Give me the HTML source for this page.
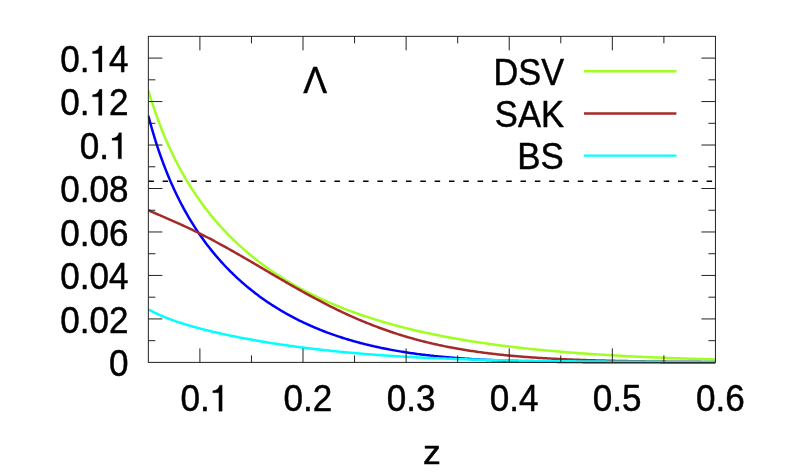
<!DOCTYPE html>
<html>
<head>
<meta charset="utf-8">
<title>plot</title>
<style>
html, body { margin: 0; padding: 0; background: #ffffff; }
body { width: 793px; height: 476px; overflow: hidden; }
svg { display: block; will-change: transform; }
text { font-family: "Liberation Sans", sans-serif; font-size: 35px; fill: #000; stroke: #000; stroke-width: 0.45px; stroke-linejoin: round; }
</style>
</head>
<body>
<svg width="793" height="476" viewBox="0 0 793 476">
<rect x="0" y="0" width="793" height="476" fill="#ffffff"/>
<!-- horizontal dashed reference -->
<path d="M148.35,181.3 H715.45" fill="none" stroke="#000" stroke-width="1.5" stroke-dasharray="5.5 8.815" stroke-dashoffset="0"/>
<!-- curves -->
<defs><clipPath id="plotclip"><rect x="147.85" y="36.35" width="567.6" height="329.04999999999995"/></clipPath></defs>
<g fill="none" stroke-width="2.5" stroke-linejoin="round" stroke-linecap="butt" clip-path="url(#plotclip)">
<path d="M148.35,115.75 L149.77,121.09 L151.19,126.23 L152.61,131.18 L154.04,135.96 L155.46,140.57 L156.88,145.02 L158.30,149.33 L159.72,153.49 L161.14,157.53 L162.56,161.44 L163.98,165.24 L165.41,168.92 L166.83,172.50 L168.25,175.98 L169.67,179.37 L171.09,182.66 L172.51,185.86 L173.93,188.98 L175.35,192.03 L176.78,194.99 L178.20,197.89 L179.62,200.71 L181.04,203.47 L182.46,206.17 L183.88,208.80 L185.30,211.37 L186.73,213.89 L188.15,216.35 L189.57,218.76 L190.99,221.12 L192.41,223.42 L193.83,225.68 L195.25,227.90 L196.67,230.07 L198.10,232.20 L199.52,234.29 L200.94,236.33 L202.36,238.34 L203.78,240.31 L205.20,242.24 L206.62,244.14 L208.04,246.00 L209.47,247.83 L210.89,249.63 L212.31,251.40 L213.73,253.13 L215.15,254.84 L216.57,256.51 L217.99,258.16 L219.42,259.78 L220.84,261.37 L222.26,262.94 L223.68,264.48 L225.10,266.00 L226.52,267.49 L227.94,268.96 L229.36,270.40 L230.79,271.82 L232.21,273.22 L233.63,274.60 L235.05,275.96 L236.47,277.29 L237.89,278.61 L239.31,279.90 L240.73,281.18 L242.16,282.44 L243.58,283.67 L245.00,284.89 L246.42,286.09 L247.84,287.28 L249.26,288.44 L250.68,289.59 L252.11,290.72 L253.53,291.84 L254.95,292.94 L256.37,294.02 L257.79,295.09 L259.21,296.15 L260.63,297.18 L262.05,298.21 L263.48,299.21 L264.90,300.21 L266.32,301.19 L267.74,302.16 L269.16,303.11 L270.58,304.05 L272.00,304.97 L273.42,305.89 L274.85,306.79 L276.27,307.68 L277.69,308.55 L279.11,309.42 L280.53,310.27 L281.95,311.11 L283.37,311.93 L284.80,312.75 L286.22,313.56 L287.64,314.35 L289.06,315.13 L290.48,315.90 L291.90,316.66 L293.32,317.42 L294.74,318.16 L296.17,318.89 L297.59,319.61 L299.01,320.31 L300.43,321.01 L301.85,321.70 L303.27,322.38 L304.69,323.06 L306.11,323.72 L307.54,324.37 L308.96,325.01 L310.38,325.65 L311.80,326.27 L313.22,326.89 L314.64,327.49 L316.06,328.09 L317.49,328.68 L318.91,329.27 L320.33,329.84 L321.75,330.41 L323.17,330.96 L324.59,331.51 L326.01,332.05 L327.43,332.59 L328.86,333.11 L330.28,333.63 L331.70,334.14 L333.12,334.65 L334.54,335.14 L335.96,335.63 L337.38,336.11 L338.80,336.59 L340.23,337.06 L341.65,337.52 L343.07,337.97 L344.49,338.42 L345.91,338.86 L347.33,339.29 L348.75,339.72 L350.18,340.14 L351.60,340.56 L353.02,340.97 L354.44,341.37 L355.86,341.76 L357.28,342.15 L358.70,342.54 L360.12,342.92 L361.55,343.29 L362.97,343.66 L364.39,344.02 L365.81,344.37 L367.23,344.72 L368.65,345.07 L370.07,345.40 L371.49,345.74 L372.92,346.07 L374.34,346.39 L375.76,346.71 L377.18,347.02 L378.60,347.33 L380.02,347.63 L381.44,347.93 L382.87,348.22 L384.29,348.51 L385.71,348.79 L387.13,349.07 L388.55,349.34 L389.97,349.61 L391.39,349.88 L392.81,350.14 L394.24,350.39 L395.66,350.64 L397.08,350.89 L398.50,351.13 L399.92,351.37 L401.34,351.61 L402.76,351.84 L404.18,352.06 L405.61,352.29 L407.03,352.50 L408.45,352.72 L409.87,352.93 L411.29,353.14 L412.71,353.34 L414.13,353.54 L415.56,353.74 L416.98,353.93 L418.40,354.12 L419.82,354.30 L421.24,354.49 L422.66,354.67 L424.08,354.84 L425.50,355.01 L426.93,355.18 L428.35,355.35 L429.77,355.51 L431.19,355.67 L432.61,355.83 L434.03,355.98 L435.45,356.13 L436.87,356.28 L438.30,356.42 L439.72,356.57 L441.14,356.70 L442.56,356.84 L443.98,356.98 L445.40,357.11 L446.82,357.23 L448.24,357.36 L449.67,357.48 L451.09,357.60 L452.51,357.72 L453.93,357.84 L455.35,357.95 L456.77,358.06 L458.19,358.17 L459.62,358.28 L461.04,358.38 L462.46,358.49 L463.88,358.59 L465.30,358.68 L466.72,358.78 L468.14,358.87 L469.56,358.96 L470.99,359.05 L472.41,359.14 L473.83,359.23 L475.25,359.31 L476.67,359.39 L478.09,359.47 L479.51,359.55 L480.93,359.63 L482.36,359.70 L483.78,359.78 L485.20,359.85 L486.62,359.92 L488.04,359.99 L489.46,360.05 L490.88,360.12 L492.31,360.18 L493.73,360.24 L495.15,360.30 L496.57,360.36 L497.99,360.42 L499.41,360.48 L500.83,360.53 L502.25,360.59 L503.68,360.64 L505.10,360.69 L506.52,360.74 L507.94,360.79 L509.36,360.83 L510.78,360.88 L512.20,360.93 L513.62,360.97 L515.05,361.01 L516.47,361.05 L517.89,361.09 L519.31,361.13 L520.73,361.17 L522.15,361.21 L523.57,361.25 L525.00,361.28 L526.42,361.32 L527.84,361.35 L529.26,361.38 L530.68,361.41 L532.10,361.45 L533.52,361.48 L534.94,361.51 L536.37,361.53 L537.79,361.56 L539.21,361.59 L540.63,361.62 L542.05,361.64 L543.47,361.67 L544.89,361.69 L546.31,361.71 L547.74,361.74 L549.16,361.76 L550.58,361.78 L552.00,361.80 L553.42,361.82 L554.84,361.84 L556.26,361.86 L557.69,361.88 L559.11,361.90 L560.53,361.91 L561.95,361.93 L563.37,361.95 L564.79,361.96 L566.21,361.98 L567.63,361.99 L569.06,362.01 L570.48,362.02 L571.90,362.03 L573.32,362.05 L574.74,362.06 L576.16,362.07 L577.58,362.08 L579.00,362.10 L580.43,362.11 L581.85,362.12 L583.27,362.13 L584.69,362.14 L586.11,362.15 L587.53,362.16 L588.95,362.17 L590.38,362.18 L591.80,362.18 L593.22,362.19 L594.64,362.20 L596.06,362.21 L597.48,362.22 L598.90,362.22 L600.32,362.23 L601.75,362.24 L603.17,362.24 L604.59,362.25 L606.01,362.26 L607.43,362.26 L608.85,362.27 L610.27,362.27 L611.69,362.28 L613.12,362.28 L614.54,362.29 L615.96,362.29 L617.38,362.30 L618.80,362.30 L620.22,362.31 L621.64,362.31 L623.07,362.31 L624.49,362.32 L625.91,362.32 L627.33,362.32 L628.75,362.33 L630.17,362.33 L631.59,362.33 L633.01,362.34 L634.44,362.34 L635.86,362.34 L637.28,362.34 L638.70,362.35 L640.12,362.35 L641.54,362.35 L642.96,362.35 L644.38,362.36 L645.81,362.36 L647.23,362.36 L648.65,362.36 L650.07,362.36 L651.49,362.37 L652.91,362.37 L654.33,362.37 L655.76,362.37 L657.18,362.37 L658.60,362.37 L660.02,362.37 L661.44,362.38 L662.86,362.38 L664.28,362.38 L665.70,362.38 L667.13,362.38 L668.55,362.38 L669.97,362.38 L671.39,362.38 L672.81,362.38 L674.23,362.38 L675.65,362.39 L677.07,362.39 L678.50,362.39 L679.92,362.39 L681.34,362.39 L682.76,362.39 L684.18,362.39 L685.60,362.39 L687.02,362.39 L688.45,362.39 L689.87,362.39 L691.29,362.39 L692.71,362.39 L694.13,362.39 L695.55,362.39 L696.97,362.39 L698.39,362.39 L699.82,362.39 L701.24,362.39 L702.66,362.39 L704.08,362.40 L705.50,362.40 L706.92,362.40 L708.34,362.40 L709.76,362.40 L711.19,362.40 L712.61,362.40 L714.03,362.40 L715.45,362.40" stroke="#0000ff"/>
<path d="M148.35,90.55 L149.77,95.25 L151.19,99.80 L152.61,104.20 L154.04,108.46 L155.46,112.59 L156.88,116.59 L158.30,120.48 L159.72,124.26 L161.14,127.93 L162.56,131.50 L163.98,134.98 L165.41,138.37 L166.83,141.66 L168.25,144.88 L169.67,148.02 L171.09,151.08 L172.51,154.06 L173.93,156.98 L175.35,159.83 L176.78,162.62 L178.20,165.35 L179.62,168.01 L181.04,170.62 L182.46,173.18 L183.88,175.68 L185.30,178.13 L186.73,180.53 L188.15,182.88 L189.57,185.19 L190.99,187.45 L192.41,189.67 L193.83,191.85 L195.25,193.99 L196.67,196.09 L198.10,198.15 L199.52,200.17 L200.94,202.16 L202.36,204.11 L203.78,206.03 L205.20,207.92 L206.62,209.78 L208.04,211.60 L209.47,213.40 L210.89,215.17 L212.31,216.90 L213.73,218.61 L215.15,220.30 L216.57,221.95 L217.99,223.58 L219.42,225.19 L220.84,226.77 L222.26,228.33 L223.68,229.86 L225.10,231.37 L226.52,232.86 L227.94,234.33 L229.36,235.78 L230.79,237.20 L232.21,238.61 L233.63,239.99 L235.05,241.36 L236.47,242.71 L237.89,244.04 L239.31,245.35 L240.73,246.64 L242.16,247.92 L243.58,249.17 L245.00,250.42 L246.42,251.64 L247.84,252.85 L249.26,254.04 L250.68,255.22 L252.11,256.38 L253.53,257.53 L254.95,258.66 L256.37,259.78 L257.79,260.89 L259.21,261.98 L260.63,263.05 L262.05,264.12 L263.48,265.17 L264.90,266.21 L266.32,267.23 L267.74,268.24 L269.16,269.24 L270.58,270.23 L272.00,271.21 L273.42,272.17 L274.85,273.12 L276.27,274.07 L277.69,275.00 L279.11,275.92 L280.53,276.83 L281.95,277.72 L283.37,278.61 L284.80,279.49 L286.22,280.36 L287.64,281.21 L289.06,282.06 L290.48,282.90 L291.90,283.73 L293.32,284.55 L294.74,285.36 L296.17,286.16 L297.59,286.95 L299.01,287.74 L300.43,288.51 L301.85,289.28 L303.27,290.03 L304.69,290.78 L306.11,291.52 L307.54,292.26 L308.96,292.98 L310.38,293.70 L311.80,294.41 L313.22,295.11 L314.64,295.80 L316.06,296.49 L317.49,297.17 L318.91,297.84 L320.33,298.50 L321.75,299.16 L323.17,299.81 L324.59,300.46 L326.01,301.09 L327.43,301.72 L328.86,302.35 L330.28,302.96 L331.70,303.57 L333.12,304.18 L334.54,304.77 L335.96,305.37 L337.38,305.95 L338.80,306.53 L340.23,307.10 L341.65,307.67 L343.07,308.23 L344.49,308.79 L345.91,309.34 L347.33,309.88 L348.75,310.42 L350.18,310.95 L351.60,311.48 L353.02,312.00 L354.44,312.52 L355.86,313.03 L357.28,313.53 L358.70,314.03 L360.12,314.53 L361.55,315.02 L362.97,315.51 L364.39,315.99 L365.81,316.46 L367.23,316.93 L368.65,317.40 L370.07,317.86 L371.49,318.32 L372.92,318.77 L374.34,319.22 L375.76,319.66 L377.18,320.10 L378.60,320.53 L380.02,320.96 L381.44,321.39 L382.87,321.81 L384.29,322.23 L385.71,322.64 L387.13,323.05 L388.55,323.46 L389.97,323.86 L391.39,324.25 L392.81,324.65 L394.24,325.03 L395.66,325.42 L397.08,325.80 L398.50,326.18 L399.92,326.55 L401.34,326.92 L402.76,327.29 L404.18,327.65 L405.61,328.01 L407.03,328.36 L408.45,328.71 L409.87,329.06 L411.29,329.41 L412.71,329.75 L414.13,330.09 L415.56,330.42 L416.98,330.75 L418.40,331.08 L419.82,331.41 L421.24,331.73 L422.66,332.05 L424.08,332.36 L425.50,332.67 L426.93,332.98 L428.35,333.29 L429.77,333.59 L431.19,333.89 L432.61,334.19 L434.03,334.48 L435.45,334.77 L436.87,335.06 L438.30,335.35 L439.72,335.63 L441.14,335.91 L442.56,336.18 L443.98,336.46 L445.40,336.73 L446.82,337.00 L448.24,337.27 L449.67,337.53 L451.09,337.79 L452.51,338.05 L453.93,338.30 L455.35,338.56 L456.77,338.81 L458.19,339.06 L459.62,339.30 L461.04,339.54 L462.46,339.79 L463.88,340.02 L465.30,340.26 L466.72,340.49 L468.14,340.73 L469.56,340.95 L470.99,341.18 L472.41,341.41 L473.83,341.63 L475.25,341.85 L476.67,342.07 L478.09,342.28 L479.51,342.50 L480.93,342.71 L482.36,342.92 L483.78,343.12 L485.20,343.33 L486.62,343.53 L488.04,343.73 L489.46,343.93 L490.88,344.13 L492.31,344.33 L493.73,344.52 L495.15,344.71 L496.57,344.90 L497.99,345.09 L499.41,345.27 L500.83,345.46 L502.25,345.64 L503.68,345.82 L505.10,346.00 L506.52,346.17 L507.94,346.35 L509.36,346.52 L510.78,346.69 L512.20,346.86 L513.62,347.03 L515.05,347.20 L516.47,347.36 L517.89,347.52 L519.31,347.68 L520.73,347.84 L522.15,348.00 L523.57,348.16 L525.00,348.31 L526.42,348.47 L527.84,348.62 L529.26,348.77 L530.68,348.92 L532.10,349.06 L533.52,349.21 L534.94,349.35 L536.37,349.50 L537.79,349.64 L539.21,349.78 L540.63,349.92 L542.05,350.05 L543.47,350.19 L544.89,350.32 L546.31,350.46 L547.74,350.59 L549.16,350.72 L550.58,350.85 L552.00,350.97 L553.42,351.10 L554.84,351.22 L556.26,351.35 L557.69,351.47 L559.11,351.59 L560.53,351.71 L561.95,351.83 L563.37,351.95 L564.79,352.06 L566.21,352.18 L567.63,352.29 L569.06,352.40 L570.48,352.52 L571.90,352.63 L573.32,352.74 L574.74,352.84 L576.16,352.95 L577.58,353.06 L579.00,353.16 L580.43,353.26 L581.85,353.37 L583.27,353.47 L584.69,353.57 L586.11,353.67 L587.53,353.77 L588.95,353.86 L590.38,353.96 L591.80,354.06 L593.22,354.15 L594.64,354.24 L596.06,354.34 L597.48,354.43 L598.90,354.52 L600.32,354.61 L601.75,354.70 L603.17,354.78 L604.59,354.87 L606.01,354.96 L607.43,355.04 L608.85,355.12 L610.27,355.21 L611.69,355.29 L613.12,355.37 L614.54,355.45 L615.96,355.53 L617.38,355.61 L618.80,355.69 L620.22,355.77 L621.64,355.84 L623.07,355.92 L624.49,355.99 L625.91,356.07 L627.33,356.14 L628.75,356.21 L630.17,356.28 L631.59,356.35 L633.01,356.42 L634.44,356.49 L635.86,356.56 L637.28,356.63 L638.70,356.70 L640.12,356.76 L641.54,356.83 L642.96,356.89 L644.38,356.96 L645.81,357.02 L647.23,357.08 L648.65,357.15 L650.07,357.21 L651.49,357.27 L652.91,357.33 L654.33,357.39 L655.76,357.45 L657.18,357.51 L658.60,357.56 L660.02,357.62 L661.44,357.68 L662.86,357.73 L664.28,357.79 L665.70,357.84 L667.13,357.90 L668.55,357.95 L669.97,358.00 L671.39,358.05 L672.81,358.11 L674.23,358.16 L675.65,358.21 L677.07,358.26 L678.50,358.31 L679.92,358.36 L681.34,358.40 L682.76,358.45 L684.18,358.50 L685.60,358.55 L687.02,358.59 L688.45,358.64 L689.87,358.68 L691.29,358.73 L692.71,358.77 L694.13,358.82 L695.55,358.86 L696.97,358.90 L698.39,358.94 L699.82,358.99 L701.24,359.03 L702.66,359.07 L704.08,359.11 L705.50,359.15 L706.92,359.19 L708.34,359.23 L709.76,359.26 L711.19,359.30 L712.61,359.34 L714.03,359.38 L715.45,359.42" stroke="#a0ff20"/>
<path d="M148.35,210.23 L149.77,210.87 L151.19,211.50 L152.61,212.13 L154.04,212.76 L155.46,213.38 L156.88,213.99 L158.30,214.61 L159.72,215.22 L161.14,215.84 L162.56,216.45 L163.98,217.07 L165.41,217.68 L166.83,218.30 L168.25,218.91 L169.67,219.53 L171.09,220.16 L172.51,220.78 L173.93,221.41 L175.35,222.04 L176.78,222.67 L178.20,223.31 L179.62,223.95 L181.04,224.60 L182.46,225.25 L183.88,225.90 L185.30,226.56 L186.73,227.23 L188.15,227.89 L189.57,228.57 L190.99,229.24 L192.41,229.93 L193.83,230.61 L195.25,231.30 L196.67,232.00 L198.10,232.70 L199.52,233.41 L200.94,234.12 L202.36,234.83 L203.78,235.56 L205.20,236.28 L206.62,237.01 L208.04,237.75 L209.47,238.48 L210.89,239.23 L212.31,239.98 L213.73,240.73 L215.15,241.49 L216.57,242.25 L217.99,243.01 L219.42,243.78 L220.84,244.56 L222.26,245.33 L223.68,246.11 L225.10,246.90 L226.52,247.69 L227.94,248.48 L229.36,249.27 L230.79,250.07 L232.21,250.87 L233.63,251.68 L235.05,252.49 L236.47,253.30 L237.89,254.11 L239.31,254.92 L240.73,255.74 L242.16,256.56 L243.58,257.38 L245.00,258.21 L246.42,259.03 L247.84,259.86 L249.26,260.69 L250.68,261.52 L252.11,262.35 L253.53,263.18 L254.95,264.02 L256.37,264.85 L257.79,265.69 L259.21,266.52 L260.63,267.36 L262.05,268.20 L263.48,269.03 L264.90,269.87 L266.32,270.71 L267.74,271.54 L269.16,272.38 L270.58,273.22 L272.00,274.05 L273.42,274.89 L274.85,275.72 L276.27,276.55 L277.69,277.38 L279.11,278.21 L280.53,279.04 L281.95,279.87 L283.37,280.70 L284.80,281.52 L286.22,282.34 L287.64,283.16 L289.06,283.98 L290.48,284.80 L291.90,285.61 L293.32,286.42 L294.74,287.23 L296.17,288.03 L297.59,288.84 L299.01,289.64 L300.43,290.44 L301.85,291.23 L303.27,292.02 L304.69,292.81 L306.11,293.59 L307.54,294.37 L308.96,295.15 L310.38,295.92 L311.80,296.69 L313.22,297.46 L314.64,298.22 L316.06,298.98 L317.49,299.73 L318.91,300.48 L320.33,301.23 L321.75,301.97 L323.17,302.71 L324.59,303.44 L326.01,304.17 L327.43,304.89 L328.86,305.61 L330.28,306.32 L331.70,307.03 L333.12,307.73 L334.54,308.43 L335.96,309.13 L337.38,309.82 L338.80,310.50 L340.23,311.18 L341.65,311.86 L343.07,312.52 L344.49,313.19 L345.91,313.85 L347.33,314.50 L348.75,315.15 L350.18,315.79 L351.60,316.43 L353.02,317.06 L354.44,317.68 L355.86,318.31 L357.28,318.92 L358.70,319.53 L360.12,320.13 L361.55,320.73 L362.97,321.33 L364.39,321.91 L365.81,322.50 L367.23,323.07 L368.65,323.64 L370.07,324.21 L371.49,324.77 L372.92,325.32 L374.34,325.87 L375.76,326.41 L377.18,326.95 L378.60,327.48 L380.02,328.00 L381.44,328.52 L382.87,329.04 L384.29,329.55 L385.71,330.05 L387.13,330.55 L388.55,331.04 L389.97,331.53 L391.39,332.01 L392.81,332.48 L394.24,332.95 L395.66,333.41 L397.08,333.87 L398.50,334.33 L399.92,334.77 L401.34,335.22 L402.76,335.65 L404.18,336.08 L405.61,336.51 L407.03,336.93 L408.45,337.35 L409.87,337.76 L411.29,338.16 L412.71,338.56 L414.13,338.95 L415.56,339.34 L416.98,339.73 L418.40,340.11 L419.82,340.48 L421.24,340.85 L422.66,341.21 L424.08,341.57 L425.50,341.93 L426.93,342.28 L428.35,342.62 L429.77,342.96 L431.19,343.29 L432.61,343.62 L434.03,343.95 L435.45,344.27 L436.87,344.59 L438.30,344.90 L439.72,345.20 L441.14,345.51 L442.56,345.80 L443.98,346.10 L445.40,346.39 L446.82,346.67 L448.24,346.95 L449.67,347.23 L451.09,347.50 L452.51,347.77 L453.93,348.03 L455.35,348.29 L456.77,348.55 L458.19,348.80 L459.62,349.05 L461.04,349.29 L462.46,349.53 L463.88,349.77 L465.30,350.00 L466.72,350.23 L468.14,350.45 L469.56,350.67 L470.99,350.89 L472.41,351.10 L473.83,351.31 L475.25,351.52 L476.67,351.72 L478.09,351.92 L479.51,352.12 L480.93,352.32 L482.36,352.51 L483.78,352.69 L485.20,352.88 L486.62,353.06 L488.04,353.23 L489.46,353.41 L490.88,353.58 L492.31,353.75 L493.73,353.92 L495.15,354.08 L496.57,354.24 L497.99,354.40 L499.41,354.55 L500.83,354.70 L502.25,354.85 L503.68,355.00 L505.10,355.14 L506.52,355.28 L507.94,355.42 L509.36,355.56 L510.78,355.69 L512.20,355.82 L513.62,355.95 L515.05,356.08 L516.47,356.20 L517.89,356.32 L519.31,356.44 L520.73,356.56 L522.15,356.67 L523.57,356.79 L525.00,356.90 L526.42,357.01 L527.84,357.11 L529.26,357.22 L530.68,357.32 L532.10,357.42 L533.52,357.52 L534.94,357.62 L536.37,357.71 L537.79,357.80 L539.21,357.90 L540.63,357.99 L542.05,358.07 L543.47,358.16 L544.89,358.25 L546.31,358.33 L547.74,358.41 L549.16,358.49 L550.58,358.57 L552.00,358.64 L553.42,358.72 L554.84,358.79 L556.26,358.87 L557.69,358.94 L559.11,359.01 L560.53,359.07 L561.95,359.14 L563.37,359.21 L564.79,359.27 L566.21,359.33 L567.63,359.39 L569.06,359.45 L570.48,359.51 L571.90,359.57 L573.32,359.63 L574.74,359.68 L576.16,359.74 L577.58,359.79 L579.00,359.84 L580.43,359.89 L581.85,359.94 L583.27,359.99 L584.69,360.04 L586.11,360.09 L587.53,360.13 L588.95,360.18 L590.38,360.22 L591.80,360.27 L593.22,360.31 L594.64,360.35 L596.06,360.39 L597.48,360.43 L598.90,360.47 L600.32,360.51 L601.75,360.55 L603.17,360.58 L604.59,360.62 L606.01,360.65 L607.43,360.69 L608.85,360.72 L610.27,360.76 L611.69,360.79 L613.12,360.82 L614.54,360.85 L615.96,360.88 L617.38,360.91 L618.80,360.94 L620.22,360.97 L621.64,360.99 L623.07,361.02 L624.49,361.05 L625.91,361.07 L627.33,361.10 L628.75,361.13 L630.17,361.15 L631.59,361.17 L633.01,361.20 L634.44,361.22 L635.86,361.24 L637.28,361.26 L638.70,361.29 L640.12,361.31 L641.54,361.33 L642.96,361.35 L644.38,361.37 L645.81,361.39 L647.23,361.40 L648.65,361.42 L650.07,361.44 L651.49,361.46 L652.91,361.48 L654.33,361.49 L655.76,361.51 L657.18,361.53 L658.60,361.54 L660.02,361.56 L661.44,361.57 L662.86,361.59 L664.28,361.60 L665.70,361.61 L667.13,361.63 L668.55,361.64 L669.97,361.66 L671.39,361.67 L672.81,361.68 L674.23,361.69 L675.65,361.71 L677.07,361.72 L678.50,361.73 L679.92,361.74 L681.34,361.75 L682.76,361.76 L684.18,361.77 L685.60,361.78 L687.02,361.79 L688.45,361.80 L689.87,361.81 L691.29,361.82 L692.71,361.83 L694.13,361.84 L695.55,361.85 L696.97,361.86 L698.39,361.87 L699.82,361.87 L701.24,361.88 L702.66,361.89 L704.08,361.90 L705.50,361.91 L706.92,361.91 L708.34,361.92 L709.76,361.93 L711.19,361.93 L712.61,361.94 L714.03,361.95 L715.45,361.95" stroke="#a52a2a"/>
<path d="M148.35,309.38 L149.77,310.16 L151.19,310.92 L152.61,311.65 L154.04,312.37 L155.46,313.06 L156.88,313.73 L158.30,314.38 L159.72,315.02 L161.14,315.64 L162.56,316.24 L163.98,316.83 L165.41,317.41 L166.83,317.97 L168.25,318.52 L169.67,319.06 L171.09,319.58 L172.51,320.10 L173.93,320.61 L175.35,321.10 L176.78,321.59 L178.20,322.07 L179.62,322.54 L181.04,323.00 L182.46,323.45 L183.88,323.90 L185.30,324.34 L186.73,324.77 L188.15,325.20 L189.57,325.61 L190.99,326.03 L192.41,326.43 L193.83,326.83 L195.25,327.23 L196.67,327.62 L198.10,328.00 L199.52,328.38 L200.94,328.76 L202.36,329.13 L203.78,329.49 L205.20,329.86 L206.62,330.21 L208.04,330.56 L209.47,330.91 L210.89,331.26 L212.31,331.60 L213.73,331.93 L215.15,332.26 L216.57,332.59 L217.99,332.92 L219.42,333.24 L220.84,333.56 L222.26,333.87 L223.68,334.18 L225.10,334.49 L226.52,334.80 L227.94,335.10 L229.36,335.40 L230.79,335.70 L232.21,335.99 L233.63,336.28 L235.05,336.57 L236.47,336.85 L237.89,337.13 L239.31,337.41 L240.73,337.69 L242.16,337.96 L243.58,338.23 L245.00,338.50 L246.42,338.77 L247.84,339.03 L249.26,339.29 L250.68,339.55 L252.11,339.81 L253.53,340.06 L254.95,340.31 L256.37,340.56 L257.79,340.81 L259.21,341.05 L260.63,341.30 L262.05,341.54 L263.48,341.78 L264.90,342.01 L266.32,342.24 L267.74,342.48 L269.16,342.71 L270.58,342.93 L272.00,343.16 L273.42,343.38 L274.85,343.60 L276.27,343.82 L277.69,344.04 L279.11,344.25 L280.53,344.46 L281.95,344.68 L283.37,344.88 L284.80,345.09 L286.22,345.30 L287.64,345.50 L289.06,345.70 L290.48,345.90 L291.90,346.10 L293.32,346.29 L294.74,346.49 L296.17,346.68 L297.59,346.87 L299.01,347.06 L300.43,347.24 L301.85,347.43 L303.27,347.61 L304.69,347.79 L306.11,347.97 L307.54,348.15 L308.96,348.32 L310.38,348.50 L311.80,348.67 L313.22,348.84 L314.64,349.01 L316.06,349.17 L317.49,349.34 L318.91,349.50 L320.33,349.67 L321.75,349.83 L323.17,349.98 L324.59,350.14 L326.01,350.30 L327.43,350.45 L328.86,350.60 L330.28,350.75 L331.70,350.90 L333.12,351.05 L334.54,351.20 L335.96,351.34 L337.38,351.48 L338.80,351.63 L340.23,351.76 L341.65,351.90 L343.07,352.04 L344.49,352.18 L345.91,352.31 L347.33,352.44 L348.75,352.57 L350.18,352.70 L351.60,352.83 L353.02,352.96 L354.44,353.08 L355.86,353.21 L357.28,353.33 L358.70,353.45 L360.12,353.57 L361.55,353.69 L362.97,353.80 L364.39,353.92 L365.81,354.03 L367.23,354.15 L368.65,354.26 L370.07,354.37 L371.49,354.48 L372.92,354.59 L374.34,354.69 L375.76,354.80 L377.18,354.90 L378.60,355.00 L380.02,355.11 L381.44,355.21 L382.87,355.31 L384.29,355.40 L385.71,355.50 L387.13,355.60 L388.55,355.69 L389.97,355.78 L391.39,355.87 L392.81,355.97 L394.24,356.06 L395.66,356.14 L397.08,356.23 L398.50,356.32 L399.92,356.40 L401.34,356.49 L402.76,356.57 L404.18,356.65 L405.61,356.73 L407.03,356.81 L408.45,356.89 L409.87,356.97 L411.29,357.05 L412.71,357.12 L414.13,357.20 L415.56,357.27 L416.98,357.35 L418.40,357.42 L419.82,357.49 L421.24,357.56 L422.66,357.63 L424.08,357.70 L425.50,357.77 L426.93,357.83 L428.35,357.90 L429.77,357.96 L431.19,358.03 L432.61,358.09 L434.03,358.15 L435.45,358.21 L436.87,358.27 L438.30,358.33 L439.72,358.39 L441.14,358.45 L442.56,358.51 L443.98,358.56 L445.40,358.62 L446.82,358.67 L448.24,358.73 L449.67,358.78 L451.09,358.83 L452.51,358.89 L453.93,358.94 L455.35,358.99 L456.77,359.04 L458.19,359.09 L459.62,359.13 L461.04,359.18 L462.46,359.23 L463.88,359.28 L465.30,359.32 L466.72,359.37 L468.14,359.41 L469.56,359.45 L470.99,359.50 L472.41,359.54 L473.83,359.58 L475.25,359.62 L476.67,359.66 L478.09,359.70 L479.51,359.74 L480.93,359.78 L482.36,359.82 L483.78,359.86 L485.20,359.89 L486.62,359.93 L488.04,359.97 L489.46,360.00 L490.88,360.04 L492.31,360.07 L493.73,360.11 L495.15,360.14 L496.57,360.17 L497.99,360.20 L499.41,360.24 L500.83,360.27 L502.25,360.30 L503.68,360.33 L505.10,360.36 L506.52,360.39 L507.94,360.42 L509.36,360.45 L510.78,360.47 L512.20,360.50 L513.62,360.53 L515.05,360.56 L516.47,360.58 L517.89,360.61 L519.31,360.63 L520.73,360.66 L522.15,360.68 L523.57,360.71 L525.00,360.73 L526.42,360.76 L527.84,360.78 L529.26,360.80 L530.68,360.83 L532.10,360.85 L533.52,360.87 L534.94,360.89 L536.37,360.91 L537.79,360.93 L539.21,360.95 L540.63,360.97 L542.05,360.99 L543.47,361.01 L544.89,361.03 L546.31,361.05 L547.74,361.07 L549.16,361.09 L550.58,361.11 L552.00,361.13 L553.42,361.14 L554.84,361.16 L556.26,361.18 L557.69,361.19 L559.11,361.21 L560.53,361.23 L561.95,361.24 L563.37,361.26 L564.79,361.27 L566.21,361.29 L567.63,361.30 L569.06,361.32 L570.48,361.33 L571.90,361.35 L573.32,361.36 L574.74,361.37 L576.16,361.39 L577.58,361.40 L579.00,361.41 L580.43,361.43 L581.85,361.44 L583.27,361.45 L584.69,361.46 L586.11,361.47 L587.53,361.49 L588.95,361.50 L590.38,361.51 L591.80,361.52 L593.22,361.53 L594.64,361.54 L596.06,361.55 L597.48,361.56 L598.90,361.57 L600.32,361.58 L601.75,361.59 L603.17,361.60 L604.59,361.61 L606.01,361.62 L607.43,361.63 L608.85,361.64 L610.27,361.65 L611.69,361.66 L613.12,361.67 L614.54,361.67 L615.96,361.68 L617.38,361.69 L618.80,361.70 L620.22,361.71 L621.64,361.71 L623.07,361.72 L624.49,361.73 L625.91,361.74 L627.33,361.74 L628.75,361.75 L630.17,361.76 L631.59,361.76 L633.01,361.77 L634.44,361.78 L635.86,361.78 L637.28,361.79 L638.70,361.80 L640.12,361.80 L641.54,361.81 L642.96,361.81 L644.38,361.82 L645.81,361.82 L647.23,361.83 L648.65,361.84 L650.07,361.84 L651.49,361.85 L652.91,361.85 L654.33,361.86 L655.76,361.86 L657.18,361.87 L658.60,361.87 L660.02,361.87 L661.44,361.88 L662.86,361.88 L664.28,361.89 L665.70,361.89 L667.13,361.90 L668.55,361.90 L669.97,361.90 L671.39,361.91 L672.81,361.91 L674.23,361.91 L675.65,361.92 L677.07,361.92 L678.50,361.92 L679.92,361.93 L681.34,361.93 L682.76,361.93 L684.18,361.94 L685.60,361.94 L687.02,361.94 L688.45,361.94 L689.87,361.95 L691.29,361.95 L692.71,361.95 L694.13,361.95 L695.55,361.96 L696.97,361.96 L698.39,361.96 L699.82,361.96 L701.24,361.97 L702.66,361.97 L704.08,361.97 L705.50,361.97 L706.92,361.97 L708.34,361.97 L709.76,361.98 L711.19,361.98 L712.61,361.98 L714.03,361.98 L715.45,361.98" stroke="#00ffff"/>
</g>
<!-- frame and ticks -->
<g fill="none" stroke="#222" stroke-width="1" shape-rendering="auto">
<rect x="148.35" y="36.35" width="567.1" height="326.04999999999995"/>
<path d="M199.90,362.4 V348.4"/>
<path d="M199.90,36.35 V50.35"/>
<path d="M251.46,362.4 V355.4"/>
<path d="M251.46,36.35 V43.35"/>
<path d="M303.01,362.4 V348.4"/>
<path d="M303.01,36.35 V50.35"/>
<path d="M354.57,362.4 V355.4"/>
<path d="M354.57,36.35 V43.35"/>
<path d="M406.12,362.4 V348.4"/>
<path d="M406.12,36.35 V50.35"/>
<path d="M457.68,362.4 V355.4"/>
<path d="M457.68,36.35 V43.35"/>
<path d="M509.23,362.4 V348.4"/>
<path d="M509.23,36.35 V50.35"/>
<path d="M560.79,362.4 V355.4"/>
<path d="M560.79,36.35 V43.35"/>
<path d="M612.34,362.4 V348.4"/>
<path d="M612.34,36.35 V50.35"/>
<path d="M663.90,362.4 V355.4"/>
<path d="M663.90,36.35 V43.35"/>
<path d="M148.35,340.66 H155.35"/>
<path d="M715.45,340.66 H708.45"/>
<path d="M148.35,318.93 H162.35"/>
<path d="M715.45,318.93 H701.45"/>
<path d="M148.35,297.19 H155.35"/>
<path d="M715.45,297.19 H708.45"/>
<path d="M148.35,275.45 H162.35"/>
<path d="M715.45,275.45 H701.45"/>
<path d="M148.35,253.72 H155.35"/>
<path d="M715.45,253.72 H708.45"/>
<path d="M148.35,231.98 H162.35"/>
<path d="M715.45,231.98 H701.45"/>
<path d="M148.35,210.24 H155.35"/>
<path d="M715.45,210.24 H708.45"/>
<path d="M148.35,188.51 H162.35"/>
<path d="M715.45,188.51 H701.45"/>
<path d="M148.35,166.77 H155.35"/>
<path d="M715.45,166.77 H708.45"/>
<path d="M148.35,145.03 H162.35"/>
<path d="M715.45,145.03 H701.45"/>
<path d="M148.35,123.30 H155.35"/>
<path d="M715.45,123.30 H708.45"/>
<path d="M148.35,101.56 H162.35"/>
<path d="M715.45,101.56 H701.45"/>
<path d="M148.35,79.82 H155.35"/>
<path d="M715.45,79.82 H708.45"/>
<path d="M148.35,58.09 H162.35"/>
<path d="M715.45,58.09 H701.45"/>
</g>
<!-- legend samples -->
<g fill="none" stroke-width="2.4">
<path d="M584,71.3 H676.4" stroke="#a0ff20"/>
<path d="M584,113.5 H676.4" stroke="#a52a2a"/>
<path d="M584,155.6 H676.4" stroke="#00ffff"/>
</g>
<g>
<text transform="translate(128.50,376.20) scale(1.003,1.06)" text-anchor="end">0</text>
<text transform="translate(128.50,332.73) scale(1.003,1.06)" text-anchor="end">0.02</text>
<text transform="translate(128.50,289.25) scale(1.003,1.06)" text-anchor="end">0.04</text>
<text transform="translate(128.50,245.78) scale(1.003,1.06)" text-anchor="end">0.06</text>
<text transform="translate(128.50,202.31) scale(1.003,1.06)" text-anchor="end">0.08</text>
<text transform="translate(128.50,158.83) scale(1.003,1.06)" text-anchor="end">0.<tspan visibility="hidden">1</tspan></text>
<text transform="translate(128.50,115.36) scale(1.003,1.06)" text-anchor="end">0.<tspan visibility="hidden">1</tspan>2</text>
<text transform="translate(128.50,71.89) scale(1.003,1.06)" text-anchor="end">0.<tspan visibility="hidden">1</tspan>4</text>
<text transform="translate(204.80,411.20) scale(1.003,1.06)" text-anchor="middle">0.<tspan visibility="hidden">1</tspan></text>
<text transform="translate(307.91,411.20) scale(1.003,1.06)" text-anchor="middle">0.2</text>
<text transform="translate(411.02,411.20) scale(1.003,1.06)" text-anchor="middle">0.3</text>
<text transform="translate(514.13,411.20) scale(1.003,1.06)" text-anchor="middle">0.4</text>
<text transform="translate(617.24,411.20) scale(1.003,1.06)" text-anchor="middle">0.5</text>
<text transform="translate(720.35,411.20) scale(1.003,1.06)" text-anchor="middle">0.6</text>
<text transform="translate(315.10,92.90) scale(1.02,1.077)" text-anchor="middle">&#923;</text>
<text transform="translate(564.00,84.50) scale(0.98,1.05)" text-anchor="end">DSV</text>
<text transform="translate(564.00,126.80) scale(0.988,1.045)" text-anchor="end">SAK</text>
<text transform="translate(563.80,168.60) scale(0.995,1.045)" text-anchor="end">BS</text>
<text transform="translate(432.00,463.60) scale(1.02,0.95)" text-anchor="middle">z</text>
</g>
<g fill="#000" stroke="#000" stroke-width="0.3">
<path transform="translate(121.47,158.83)" d="M0,0 H-3.3 V-18.5 H-9.4 V-20.5 C-5.6,-20.7 -3.5,-22.4 -2.5,-26.0 H0 Z"/>
<path transform="translate(101.95,115.36)" d="M0,0 H-3.3 V-18.5 H-9.4 V-20.5 C-5.6,-20.7 -3.5,-22.4 -2.5,-26.0 H0 Z"/>
<path transform="translate(101.95,71.89)" d="M0,0 H-3.3 V-18.5 H-9.4 V-20.5 C-5.6,-20.7 -3.5,-22.4 -2.5,-26.0 H0 Z"/>
<path transform="translate(222.18,411.20)" d="M0,0 H-3.3 V-18.5 H-9.4 V-20.5 C-5.6,-20.7 -3.5,-22.4 -2.5,-26.0 H0 Z"/>
</g>
</svg>
</body>
</html>
